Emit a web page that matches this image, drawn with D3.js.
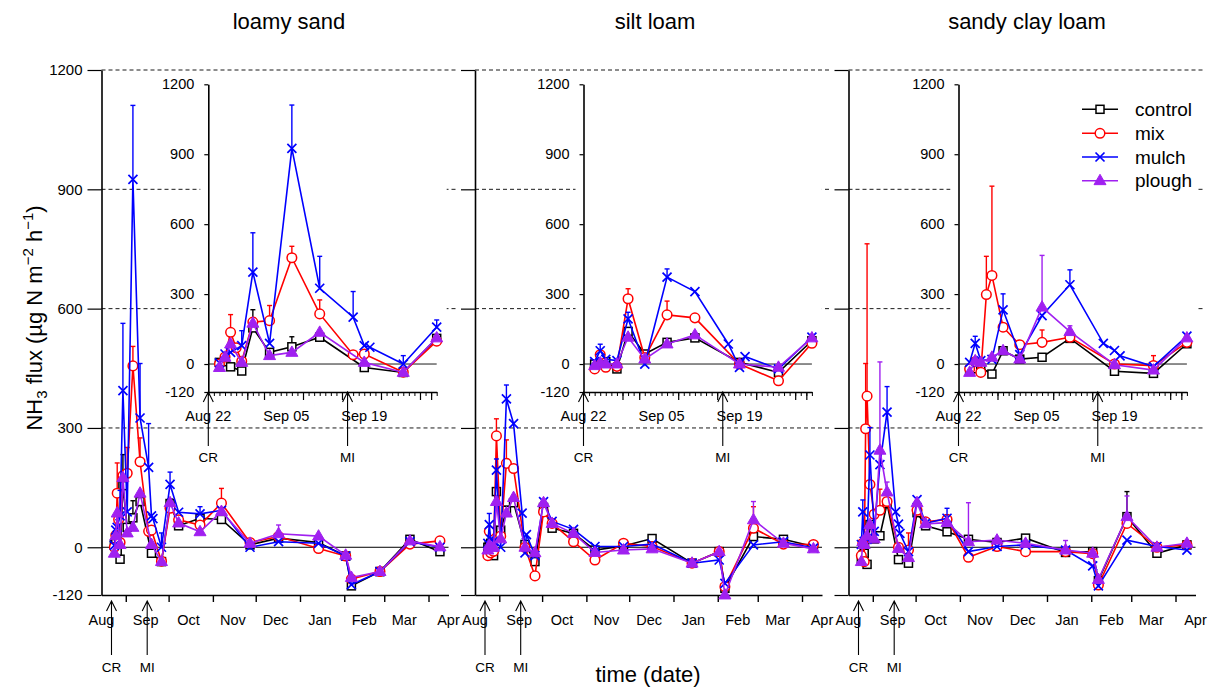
<!DOCTYPE html>
<html><head><meta charset="utf-8">
<script src="https://cdn.jsdelivr.net/npm/d3@7"></script>
<style>
body{margin:0;background:#fff}
svg{display:block}
text{font-family:"Liberation Sans",Arial,sans-serif;fill:#000}
</style>
</head><body>
<svg id="c" width="1214" height="689"></svg>
<script>
// ---------------- DATA ----------------
const soils = ["loamy sand", "silt loam", "sandy clay loam"];
const treatments = ["control", "mix", "mulch", "plough"];
const sampleDates = ["2014-08-24","2014-08-25","2014-08-26","2014-08-27","2014-08-28","2014-08-30","2014-09-02","2014-09-06","2014-09-11","2014-09-17","2014-09-19","2014-09-20","2014-09-26","2014-10-02","2014-10-08","2014-10-23","2014-11-07","2014-11-27","2014-12-17","2015-01-14","2015-02-02","2015-02-06","2015-02-26","2015-03-19","2015-04-09"];
const yTicks = [-120, 0, 300, 600, 900, 1200];
const gridValues = [300, 600, 900, 1200];
const monthLabels = ["Aug","Sep","Oct","Nov","Dec","Jan","Feb","Mar","Apr"];
const monthLabelDates = ["2014-08-15","2014-09-15","2014-10-15","2014-11-15","2014-12-15","2015-01-15","2015-02-15","2015-03-15","2015-04-15"];
const monthTickDates = ["2014-09-01","2014-10-01","2014-11-01","2014-12-01","2015-01-01","2015-02-01","2015-03-01","2015-04-01"];
const insetLabels = ["Aug 22","Sep 05","Sep 19"];
const insetLabelDates = ["2014-08-22","2014-09-05","2014-09-19"];
const eventLabels = ["CR","MI"];
const eventDates = ["2014-08-22","2014-09-16"];

// loamy sand
const lsControl    = [7,10,-12,null,-30,155,50,74,115,null,-15,null,-36,110,54,73,70,6,23,12,-22,-97,-61,20,-11];
const lsControlErr = [0,0,0,0,0,78,0,43,0,0,0,0,0,12,0,0,0,0,0,0,0,0,0,0,0];
const lsMix        = [0,30,136,70,12,180,186,456,215,40,43,null,-35,98,69,56,111,12,27,-3,-22,-80,-61,8,16];
const lsMixErr     = [0,0,76,0,0,0,65,49,60,0,0,0,0,0,0,0,37,0,0,0,0,0,0,0,0];
const lsMulch      = [5,43,50,null,79,394,89,925,325,201,79,72,0,158,88,84,93,0,14,10,-22,-94,-61,14,0];
const lsMulchErr   = [0,0,0,0,64,169,0,186,137,110,0,0,36,31,0,18,0,0,0,0,0,0,0,0,0];
const lsPlough     = [-15,29,86,null,7,175,36,50,136,null,7,null,-36,112,61,39,90,10,34,28,-20,-76,-61,16,1];
const lsPloughErr  = [0,0,0,0,0,0,0,0,0,0,0,0,0,0,0,0,0,0,22,0,0,0,0,0,0];
// silt loam
const slControl    = [0,5,10,null,-21,140,43,93,112,null,7,null,-36,100,48,35,-7,3,22,-40,-11,-103,27,20,2];
const slControlErr = [0,0,0,0,0,0,0,10,0,0,0,0,0,0,0,0,0,0,0,0,0,0,33,0,0];
const slMix        = [-21,40,-14,null,-10,280,28,211,198,null,0,null,-72,89,60,14,-32,10,2,-40,-11,-99,48,8,7];
const slMixErr     = [0,0,0,0,0,43,0,59,8,0,0,0,0,0,0,0,0,0,0,0,0,0,54,0,0];
const slMulch      = [10,57,20,null,15,194,0,373,311,86,-14,32,-21,115,65,45,2,2,8,-40,-32,-91,6,14,-2];
const slMulchErr   = [0,28,0,0,0,28,0,35,0,0,0,0,0,0,0,0,0,0,0,0,0,0,0,0,0];
const slPlough     = [-7,5,0,null,0,115,21,86,125,null,0,null,-14,112,60,35,-13,-7,-4,-40,-11,-120,69,10,-4];
const slPloughErr  = [0,0,0,0,0,0,0,0,0,0,0,0,0,8,0,0,0,0,0,0,0,0,46,0,0];
// sandy clay loam
const scControl    = [-29,-20,-15,null,-43,57,21,29,110,null,-31,null,-40,87,54,39,20,12,23,-13,-11,-84,77,-15,6];
const scControlErr = [0,0,0,0,0,0,0,0,10,0,0,0,0,0,0,0,0,0,0,0,0,0,63,0,0];
const scMix        = [-21,10,-36,298,380,158,83,93,115,null,0,null,-7,93,64,70,-25,2,-11,-11,-16,-95,60,0,6];
const scMixErr     = [0,0,0,164,383,0,0,53,0,0,0,0,43,0,0,12,0,0,0,0,0,0,0,0,0];
const scMulch      = [7,89,15,null,20,232,40,208,340,89,58,35,-11,120,60,73,-11,2,6,-7,-47,-97,18,2,-7];
const scMulchErr   = [0,30,0,0,0,69,0,0,64,0,0,0,0,0,0,25,0,0,0,0,0,0,0,0,0];
const scPlough     = [-36,14,7,null,29,57,21,244,139,null,-3,null,-26,112,59,62,14,18,10,-7,-15,-81,77,0,10];
const scPloughErr  = [0,0,0,0,0,0,0,222,25,0,0,0,0,0,0,0,98,0,0,24,0,0,52,0,0];

// ---------------- BUILD ----------------
const parse = d3.timeParse("%Y-%m-%d");
const D = sampleDates.map(parse);
const panelValues = [
  [[lsControl,lsControlErr],[lsMix,lsMixErr],[lsMulch,lsMulchErr],[lsPlough,lsPloughErr]],
  [[slControl,slControlErr],[slMix,slMixErr],[slMulch,slMulchErr],[slPlough,slPloughErr]],
  [[scControl,scControlErr],[scMix,scMixErr],[scMulch,scMulchErr],[scPlough,scPloughErr]]
];
const colors = {control:"#000000", mix:"#FF0000", mulch:"#0000FF", plough:"#A020F0"};

const svg = d3.select("#c");
const mainY = d3.scaleLinear().domain([-120,1200]).range([595,70]);
const insetY = d3.scaleLinear().domain([-120,1200]).range([392,84.3]);
const panelX0 = [101.5, 475, 848.5];
const insetX0 = [208.3, 583.5, 958.5];
const mainW = 347, insetW = 228.4;
const titleX = [289, 655, 1027];
const fmt = d => String(d);

function marker(g, t, x, y) {
  const c = colors[t];
  if (t === "control") {
    g.append("rect").attr("x", x-4).attr("y", y-4).attr("width", 8).attr("height", 8)
      .attr("fill", "#fff").attr("stroke", c).attr("stroke-width", 1.5);
  } else if (t === "mix") {
    g.append("circle").attr("cx", x).attr("cy", y).attr("r", 4.8)
      .attr("fill", "#fff").attr("stroke", c).attr("stroke-width", 1.5);
  } else if (t === "mulch") {
    const s = 4.5;
    g.append("path").attr("d", `M${x-s},${y-s}L${x+s},${y+s}M${x-s},${y+s}L${x+s},${y-s}`)
      .attr("stroke", c).attr("stroke-width", 1.7).attr("fill", "none");
  } else {
    const h = 10.4, w = 6;
    g.append("path").attr("d", `M${x},${y-h*0.62}L${x+w},${y+h*0.38}L${x-w},${y+h*0.38}Z`)
      .attr("fill", c).attr("stroke", c).attr("stroke-width", 1);
  }
}

function drawSeries(g, x, y, vals, errs, t) {
  const pts = D.map((d,k)=>({d, v: vals[k], e: errs[k]}))
    .filter(p => p.v !== null && p.d >= x.domain()[0] && p.d <= x.domain()[1]);
  const c = colors[t];
  const sg = g.append("g");
  pts.filter(p => p.e > 0).forEach(p => {
    const px = x(p.d), y0 = y(p.v), y1 = y(p.v + p.e);
    sg.append("line").attr("x1",px).attr("x2",px).attr("y1",y0).attr("y2",y1)
      .attr("stroke",c).attr("stroke-width",1.4);
    sg.append("line").attr("x1",px-2.5).attr("x2",px+2.5).attr("y1",y1).attr("y2",y1)
      .attr("stroke",c).attr("stroke-width",1.4);
  });
  sg.append("path").datum(pts)
    .attr("d", d3.line().x(p=>x(p.d)).y(p=>y(p.v)))
    .attr("fill","none").attr("stroke",c).attr("stroke-width",1.6);
  pts.forEach(p => marker(sg, t, x(p.d), y(p.v)));
}

function arrow(g, px, ytip, ybot, label, ytext) {
  g.append("path").attr("d", `M${px},${ybot}L${px},${ytip}M${px-5},${ytip+10}L${px},${ytip}L${px+5},${ytip+10}`)
    .attr("fill","none").attr("stroke","#000").attr("stroke-width",1.1);
  g.append("text").attr("x",px).attr("y",ytext).attr("text-anchor","middle")
    .attr("font-size","13.5px").text(label);
}

soils.forEach((soil, i) => {
  const g = svg.append("g");
  const x0 = panelX0[i];
  const x = d3.scaleTime().domain([parse("2014-08-15"), parse("2015-04-15")]).range([x0, x0+mainW]);

  gridValues.forEach(v => {
    g.append("line").attr("x1", x0).attr("x2", x0+356).attr("y1", mainY(v)).attr("y2", mainY(v))
      .attr("stroke","#000").attr("stroke-width",0.9).attr("stroke-dasharray","4,3");
  });
  g.append("line").attr("x1", x0).attr("x2", x0+mainW).attr("y1", mainY(0)).attr("y2", mainY(0))
    .attr("stroke","#000").attr("stroke-width",1);

  const ya = d3.axisLeft(mainY).tickValues(yTicks).tickSize(14).tickPadding(5).tickSizeOuter(0)
    .tickFormat(i > 0 ? "" : fmt);
  const yg = g.append("g").attr("transform",`translate(${x0},0)`).call(ya);
  yg.select(".domain").attr("stroke-width",1.6);
  yg.selectAll(".tick line").attr("stroke-width",1.2);
  yg.selectAll("text").attr("font-size","15px").attr("font-family",'"Liberation Sans",Arial,sans-serif');

  const xa = d3.axisBottom(x).tickValues(monthTickDates.map(parse)).tickSize(7).tickFormat("").tickSizeOuter(0);
  const xg = g.append("g").attr("transform",`translate(0,595)`).call(xa);
  xg.select(".domain").attr("stroke-width",1.6);
  xg.selectAll(".tick line").attr("stroke-width",1.4);
  monthLabels.forEach((m,k) => {
    g.append("text").attr("x", x(parse(monthLabelDates[k]))).attr("y", 624.5)
      .attr("text-anchor","middle").attr("font-size","14.5px").text(m);
  });
  eventLabels.forEach((lab,k) => arrow(g, x(parse(eventDates[k])), 601, 655, lab, 672));

  treatments.forEach((t,k) => drawSeries(g, x, mainY, panelValues[i][k][0], panelValues[i][k][1], t));

  g.append("text").attr("x", titleX[i]).attr("y", 29).attr("text-anchor","middle")
    .attr("font-size","22px").text(soil);

  // ---------- inset ----------
  const ix0 = insetX0[i];
  g.append("rect").attr("x", ix0-8).attr("y", 78).attr("width", insetW+18).attr("height", 322)
    .attr("fill","#fff");
  const xi = d3.scaleTime().domain([parse("2014-08-22"), parse("2014-10-02")]).range([ix0, ix0+insetW]);
  g.append("line").attr("x1", ix0).attr("x2", ix0+insetW).attr("y1", insetY(0)).attr("y2", insetY(0))
    .attr("stroke","#000").attr("stroke-width",0.9);
  const iya = d3.axisLeft(insetY).tickValues(yTicks).tickSize(4).tickPadding(10).tickSizeOuter(0).tickFormat(fmt);
  const iyg = g.append("g").attr("transform",`translate(${ix0},0)`).call(iya);
  iyg.select(".domain").attr("stroke-width",1.6);
  iyg.selectAll(".tick line").attr("stroke-width",1.2);
  iyg.selectAll("text").attr("font-size","14.5px").attr("font-family",'"Liberation Sans",Arial,sans-serif');
  const days = d3.timeDay.range(parse("2014-08-22"), parse("2014-10-03"));
  const weeks = d3.timeDay.every(7).range(parse("2014-08-22"), parse("2014-10-03"));
  const ixa1 = d3.axisBottom(xi).tickValues(days).tickSize(4).tickFormat("").tickSizeOuter(0);
  const ixg1 = g.append("g").attr("transform",`translate(0,392)`).call(ixa1);
  ixg1.select(".domain").attr("stroke-width",1.6);
  ixg1.selectAll(".tick line").attr("stroke-width",1);
  const ixa2 = d3.axisBottom(xi).tickValues(weeks.filter(w => +w !== +parse("2014-08-22"))).tickSize(8).tickFormat("").tickSizeOuter(0);
  const ixg2 = g.append("g").attr("transform",`translate(0,392)`).call(ixa2);
  ixg2.select(".domain").remove();
  ixg2.selectAll(".tick line").attr("stroke-width",1.2);
  insetLabels.forEach((lab,k) => {
    g.append("text").attr("x", xi(parse(insetLabelDates[k]))).attr("y", 420.7)
      .attr("text-anchor","middle").attr("font-size","14.5px").text(lab);
  });
  eventLabels.forEach((lab,k) => arrow(g, xi(parse(eventDates[k])), 392, 446, lab, 462));
  treatments.forEach((t,k) => drawSeries(g, xi, insetY, panelValues[i][k][0], panelValues[i][k][1], t));
});

// legend
const lg = svg.append("g");
const legendY = [109.3, 133.3, 157, 180.7];
treatments.forEach((t,k) => {
  lg.append("line").attr("x1",1082).attr("x2",1118).attr("y1",legendY[k]).attr("y2",legendY[k])
    .attr("stroke",colors[t]).attr("stroke-width",1.6);
  marker(lg, t, 1100, legendY[k]);
  lg.append("text").attr("x",1135).attr("y",legendY[k]+6.5).attr("font-size","19px").text(t);
});

// axis titles
svg.append("text").attr("x",648).attr("y",682).attr("text-anchor","middle")
  .attr("font-size","22px").text("time (date)");
const yt = svg.append("text").attr("transform","translate(42,318) rotate(-90)")
  .attr("text-anchor","middle").attr("font-size","22px");
yt.append("tspan").text("NH");
yt.append("tspan").attr("font-size","15px").attr("dy","5").text("3");
yt.append("tspan").attr("dy","-5").text(" flux (\u00b5g N m");
yt.append("tspan").attr("font-size","15px").attr("dy","-9").text("\u22122");
yt.append("tspan").attr("dy","9").text(" h");
yt.append("tspan").attr("font-size","15px").attr("dy","-9").text("\u22121");
yt.append("tspan").attr("dy","9").text(")");
</script>
</body></html>
